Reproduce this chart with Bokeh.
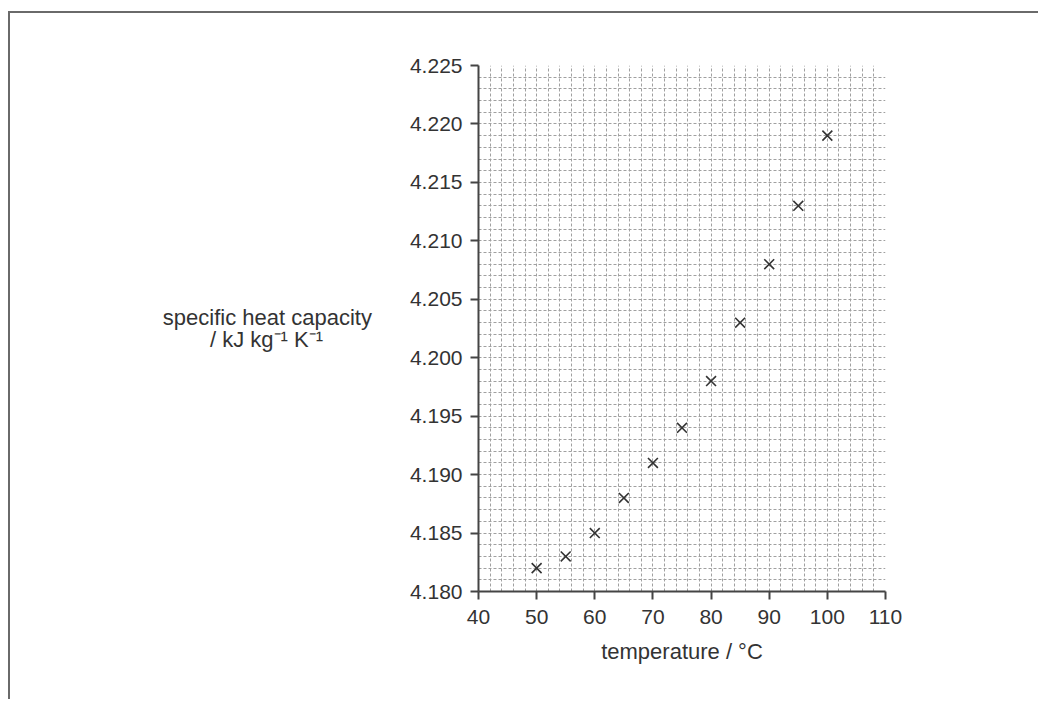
from bokeh.plotting import figure
from bokeh.models import Range1d, FixedTicker, PrintfTickFormatter
from bokeh.embed import file_html
from bokeh.resources import INLINE
import numpy as np

temperature = [50, 55, 60, 65, 70, 75, 80, 85, 90, 95, 100]
heat_capacity = [4.182, 4.183, 4.185, 4.188, 4.191, 4.194, 4.198, 4.203, 4.208, 4.213, 4.219]
x_ticks = [40, 50, 60, 70, 80, 90, 100, 110]
y_ticks = [4.180, 4.185, 4.190, 4.195, 4.200, 4.205, 4.210, 4.215, 4.220, 4.225]
x_label = "temperature / °C"
y_label_1 = "specific heat capacity"
y_label_2 = "/ kJ kg⁻¹ K⁻¹"

FONT = "Liberation Sans"
TXT = "#333333"
W, H = 1030, 688

p = figure(width=W, height=H, output_backend="svg", toolbar_location=None,
           x_range=Range1d(40, 110), y_range=Range1d(4.180, 4.225),
           min_border_left=468, min_border_right=155, min_border_top=52, min_border_bottom=110)
p.styles = {"margin-top": "11px", "margin-left": "8px",
            "border-top": "2px solid #6a6a6a", "border-left": "2px solid #6a6a6a"}
p.outline_line_color = None
p.background_fill_color = "white"
p.border_fill_color = "white"

# grid
p.xgrid.ticker = FixedTicker(ticks=[float(v) for v in np.arange(40, 110.5, 2)])
p.ygrid.ticker = FixedTicker(ticks=[float(v) for v in np.round(np.arange(4.180, 4.2255, 0.001), 3)])
for g in (p.xgrid, p.ygrid):
    g.grid_line_color = "#a0a0a0"
    g.grid_line_dash = "3 2"
    g.grid_line_width = 1

# axes
p.xaxis.ticker = FixedTicker(ticks=x_ticks)
p.yaxis.ticker = FixedTicker(ticks=y_ticks)
p.yaxis.formatter = PrintfTickFormatter(format="%.3f")
for ax in (p.xaxis, p.yaxis):
    ax.axis_line_color = "#444444"
    ax.axis_line_width = 2
    ax.major_tick_line_color = "#444444"
    ax.major_tick_line_width = 2
    ax.major_tick_out = 8
    ax.major_tick_in = 0
    ax.minor_tick_line_color = None
    ax.major_label_text_font = FONT
    ax.major_label_text_font_size = "21px"
    ax.major_label_text_color = TXT
    ax.axis_label_text_font = FONT
    ax.axis_label_text_font_size = "22px"
    ax.axis_label_text_font_style = "normal"
    ax.axis_label_text_color = TXT
p.xaxis.major_label_standoff = 10
p.yaxis.major_label_standoff = 8
p.xaxis.axis_label = x_label
p.xaxis.axis_label_standoff = 12

# two-line horizontal y label; second line padded so it sits centred under the first
p.yaxis.axis_label = y_label_1 + "\n" + y_label_2 + "\u00a0" * 8
p.yaxis.axis_label_orientation = "horizontal"
p.yaxis.axis_label_standoff = 35
p.yaxis.axis_label_text_line_height = 0.9

# data
p.scatter(temperature, heat_capacity, marker="x", size=14, line_color="#333333", line_width=1.6)

open("out.html", "w").write(file_html(p, INLINE))
